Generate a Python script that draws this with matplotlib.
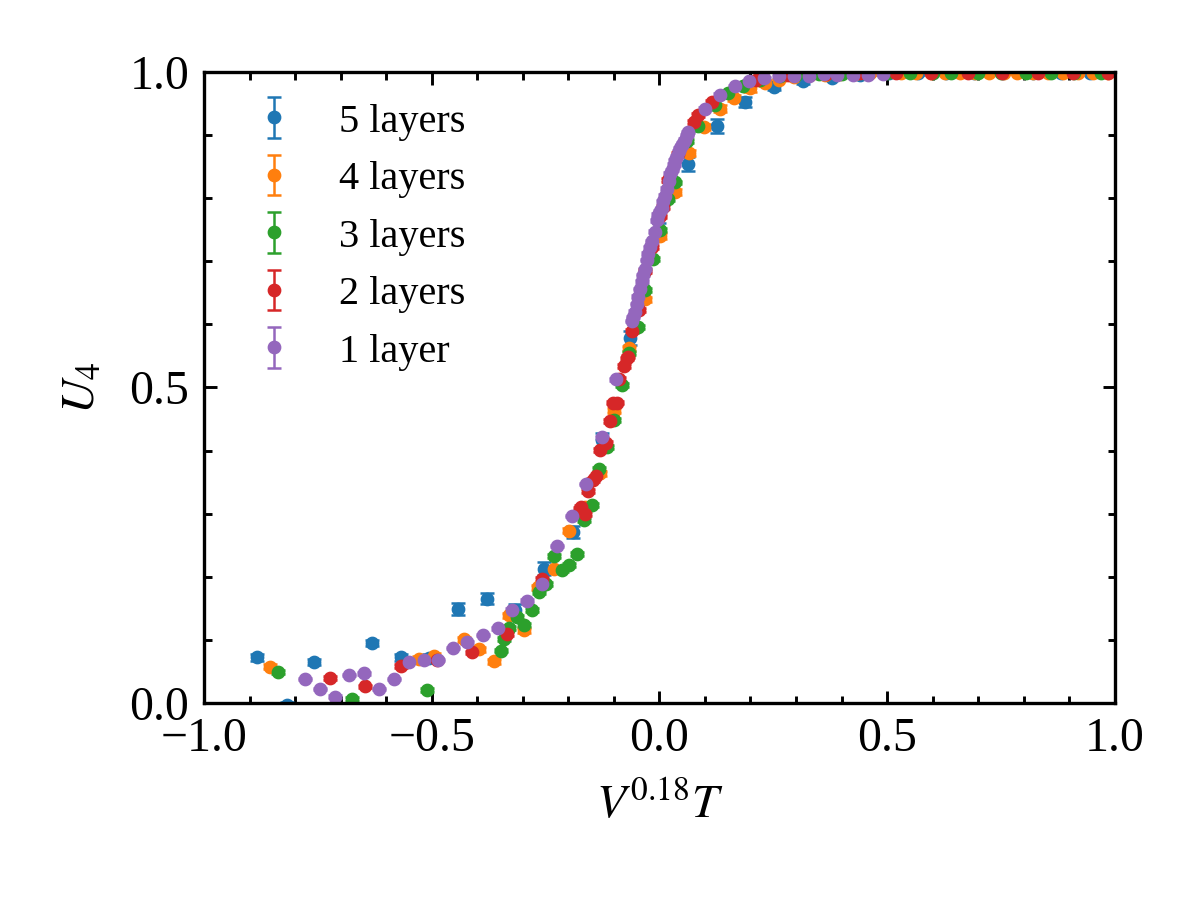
#Import Libraries
import numpy as np
import matplotlib
matplotlib.use("Agg")
import matplotlib.pyplot as plt
from matplotlib.ticker import MultipleLocator

#Data: x = V^0.18 T, y = U_4, e = error
x5 = [-0.883, -0.818, -0.758, -0.630, -0.567, -0.506, -0.442, -0.378, -0.317, -0.253,
      -0.190, -0.126, -0.065, 0.000, 0.062, 0.127, 0.188, 0.251, 0.316, 0.378,
      0.440, 0.505, 0.567, 0.630, 0.690, 0.755, 0.820, 0.881, 0.945]
y5 = [0.072, -0.004, 0.065, 0.095, 0.072, 0.071, 0.149, 0.165, 0.148, 0.213,
      0.271, 0.417, 0.578, 0.750, 0.854, 0.915, 0.953, 0.977, 0.985, 0.991,
      0.996, 0.998, 0.998, 0.999, 0.999, 0.999, 0.999, 0.999, 0.999]
e5 = [0.005, 0.005, 0.005, 0.005, 0.005, 0.006, 0.009, 0.009, 0.008, 0.010,
      0.010, 0.011, 0.011, 0.011, 0.011, 0.011, 0.008, 0.006, 0.004, 0.003,
      0.002, 0.002, 0.002, 0.001, 0.001, 0.001, 0.001, 0.001, 0.001]

x4 = [-0.855, -0.527, -0.494, -0.428, -0.396, -0.363, -0.330, -0.297, -0.266, -0.231,
      -0.198, -0.164, -0.131, -0.099, -0.066, -0.032, 0.001, 0.034, 0.066, 0.098,
      0.133, 0.164, 0.199, 0.232, 0.263, 0.296, 0.330, 0.363, 0.396, 0.430,
      0.463, 0.496, 0.530, 0.564, 0.596, 0.627, 0.660, 0.693, 0.724, 0.756,
      0.786, 0.820, 0.853, 0.886, 0.920, 0.953, 0.986]
y4 = [0.057, 0.070, 0.075, 0.101, 0.085, 0.066, 0.139, 0.115, 0.183, 0.212,
      0.273, 0.310, 0.364, 0.463, 0.562, 0.640, 0.740, 0.810, 0.872, 0.913,
      0.942, 0.959, 0.974, 0.983, 0.987, 0.992, 0.995, 0.996, 0.997, 0.997,
      0.998, 0.998, 0.998, 0.999, 0.999, 0.999, 0.999, 0.999, 0.999, 0.999,
      0.999, 0.999, 0.999, 0.999, 0.999, 0.999, 0.999]
e4 = [0.004] * 16 + [0.005] * 8 + [0.002] * 8 + [0.001] * 15

x3 = [-0.838, -0.674, -0.510, -0.348, -0.342, -0.330, -0.312, -0.297, -0.279, -0.264,
      -0.248, -0.231, -0.213, -0.198, -0.180, -0.165, -0.148, -0.133, -0.116, -0.099,
      -0.082, -0.067, -0.047, -0.032, -0.015, 0.001, 0.019, 0.035, 0.060, 0.084,
      0.122, 0.151, 0.184, 0.220, 0.265, 0.300, 0.350, 0.400, 0.450, 0.500,
      0.550, 0.600, 0.641, 0.700, 0.750, 0.806, 0.860, 0.910, 0.969]
y3 = [0.049, 0.006, 0.021, 0.083, 0.101, 0.119, 0.136, 0.124, 0.147, 0.175,
      0.188, 0.233, 0.211, 0.218, 0.236, 0.290, 0.314, 0.371, 0.405, 0.449,
      0.504, 0.554, 0.596, 0.655, 0.703, 0.750, 0.799, 0.825, 0.891, 0.915,
      0.948, 0.967, 0.978, 0.987, 0.993, 0.995, 0.997, 0.997, 0.998, 0.998,
      0.999, 0.999, 0.999, 0.999, 0.999, 0.999, 0.999, 0.999, 0.999]
e3 = [0.003] * 30 + [0.002] * 6 + [0.001] * 13

x2 = [-0.723, -0.647, -0.567, -0.489, -0.412, -0.334, -0.257, -0.175, -0.172, -0.164,
      -0.156, -0.145, -0.140, -0.131, -0.118, -0.109, -0.101, -0.093, -0.088, -0.078,
      -0.072, -0.070, -0.061, -0.044, -0.032, -0.017, 0.001, 0.007, 0.019, 0.040,
      0.076, 0.085, 0.115, 0.213, 0.283, 0.365, 0.440, 0.520, 0.596, 0.677,
      0.753, 0.832, 0.908, 0.985]
y2 = [0.039, 0.026, 0.059, 0.068, 0.080, 0.109, 0.197, 0.308, 0.311, 0.300,
      0.336, 0.353, 0.359, 0.401, 0.412, 0.447, 0.476, 0.476, 0.513, 0.534,
      0.546, 0.549, 0.589, 0.623, 0.685, 0.723, 0.771, 0.786, 0.829, 0.870,
      0.921, 0.932, 0.953, 0.987, 0.995, 0.997, 0.998, 0.999, 0.999, 0.999,
      0.999, 0.999, 0.999, 0.999]
e2 = [0.003] * 33 + [0.001] * 11

x1 = [-0.778, -0.745, -0.712, -0.681, -0.648, -0.615, -0.582, -0.549, -0.518, -0.486,
      -0.453, -0.422, -0.387, -0.354, -0.323, -0.290, -0.257, -0.225, -0.191, -0.161,
      -0.127, -0.096, -0.061, -0.058, -0.054, -0.050, -0.047, -0.043, -0.039, -0.035,
      -0.032, -0.028, -0.024, -0.020, -0.016, -0.010, -0.006, -0.002, 0.002, 0.005,
      0.009, 0.012, 0.016, 0.020, 0.023, 0.027, 0.031, 0.034, 0.038, 0.042,
      0.045, 0.049, 0.052, 0.056, 0.060, 0.063, 0.100, 0.133, 0.166, 0.197,
      0.230, 0.263, 0.295, 0.329, 0.362, 0.389, 0.426, 0.457, 0.491]
y1 = [0.038, 0.022, 0.010, 0.044, 0.047, 0.022, 0.038, 0.065, 0.068, 0.068,
      0.087, 0.096, 0.108, 0.118, 0.148, 0.162, 0.188, 0.249, 0.296, 0.347,
      0.421, 0.513, 0.605, 0.612, 0.620, 0.632, 0.644, 0.656, 0.668, 0.678,
      0.687, 0.702, 0.712, 0.722, 0.732, 0.747, 0.765, 0.774, 0.780, 0.784,
      0.795, 0.804, 0.815, 0.828, 0.839, 0.845, 0.853, 0.860, 0.867, 0.874,
      0.879, 0.884, 0.887, 0.893, 0.900, 0.905, 0.942, 0.964, 0.978, 0.986,
      0.990, 0.993, 0.994, 0.994, 0.997, 0.995, 0.996, 0.996, 0.997]
e1 = [0.002] * 69

series = [(x5, y5, e5, "5 layers"), (x4, y4, e4, "4 layers"), (x3, y3, e3, "3 layers"),
          (x2, y2, e2, "2 layers"), (x1, y1, e1, "1 layer")]

#Style
plt.rcParams["font.family"] = "Liberation Serif"
plt.rcParams["mathtext.fontset"] = "stix"
plt.rcParams["font.size"] = 11.5

fig = plt.figure(figsize=(4, 3), dpi=300)
ax = fig.add_axes([0.17, 0.219, 0.759, 0.701])

for x, y, e, lab in series:
    ax.errorbar(x, y, yerr=e, fmt="o", ms=2.3, capsize=1.6,
                elinewidth=0.6, capthick=0.6, label=lab)

ax.set_xlim(-1, 1)
ax.set_ylim(0, 1)
ax.xaxis.set_major_locator(MultipleLocator(0.5))
ax.xaxis.set_minor_locator(MultipleLocator(0.1))
ax.yaxis.set_major_locator(MultipleLocator(0.5))
ax.yaxis.set_minor_locator(MultipleLocator(0.1))
ax.tick_params(which="both", direction="in", top=True, right=True, width=0.7)
ax.tick_params(which="major", length=3)
ax.tick_params(which="minor", length=1.8)
for s in ax.spines.values():
    s.set_linewidth(0.8)

ax.set_xlabel(r"$V^{0.18}T$", labelpad=5)
ax.set_ylabel(r"$U_4$", labelpad=6)
ax.legend(loc="upper left", bbox_to_anchor=(-0.007, 1.008), frameon=False,
          fontsize=9.7, handletextpad=0.6)

plt.savefig("out.png", dpi=300)
